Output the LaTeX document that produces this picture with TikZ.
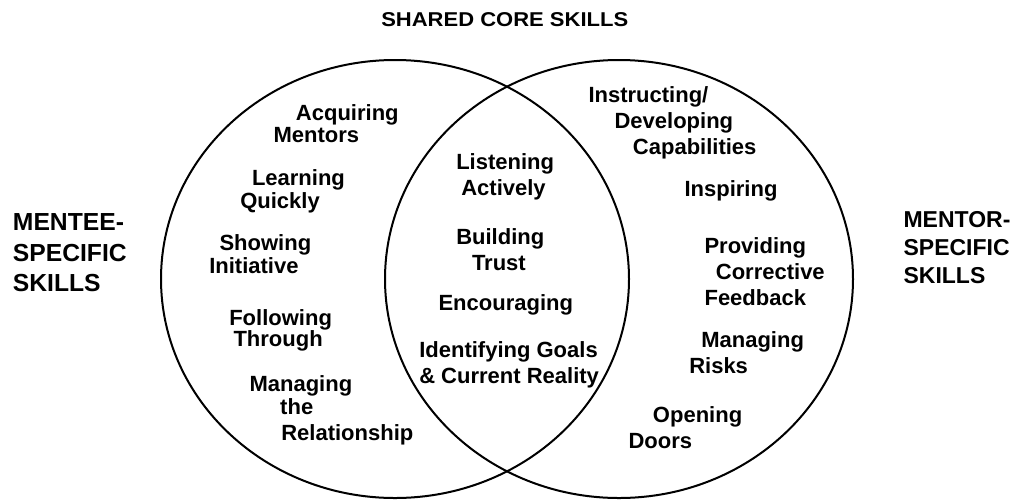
\documentclass[tikz,border=0pt]{standalone}
\usepackage{fontspec}
\setmainfont{Liberation Sans}

\tikzset{
  skill/.style={font=\bfseries\fontsize{16.5}{19.5}\selectfont, align=left, anchor=base west, inner sep=0pt},
  skilltight/.style={skill, font=\bfseries\fontsize{16.5}{17}\selectfont},
  side/.style={font=\bfseries\fontsize{18.5}{23}\selectfont, align=left, anchor=base west, inner sep=0pt},
}

\begin{document}
\begin{tikzpicture}[x=0.75pt,y=0.75pt,yscale=-1,xscale=1]
%set diagram left start at 0, and has height of 501
\useasboundingbox (0,0) rectangle (1021,501);

%Shape: Ellipse [mentee]
\draw  [line width=1.5pt] (395,279) ellipse [x radius=234, y radius=219];
%Shape: Ellipse [mentor]
\draw  [line width=1.5pt] (619,279) ellipse [x radius=234, y radius=219];

% Text Node
\draw (381,26) node (title) [anchor=base west, inner sep=0pt, xscale=1.1, font=\bfseries\fontsize{15}{18}\selectfont] {SHARED CORE SKILLS};
% Text Node
\draw (12.7,291.7) node (menteelbl) [side] {MENTEE-\\SPECIFIC\\SKILLS};
% Text Node
\draw (903.3,283.3) node (mentorlbl) [side, font=\bfseries\fontsize{17.25}{21}\selectfont] {MENTOR-\\SPECIFIC\\SKILLS};

% Text Node
\draw (273.3,142.7) node (acquiring) [skilltight] {\hspace*{16.8pt}Acquiring\\Mentors};
% Text Node
\draw (240,208.3) node (learning) [skilltight] {\hspace*{8.8pt}Learning\\Quickly};
% Text Node
\draw (209,273.3) node (showing) [skilltight] {\hspace*{7.7pt}Showing\\Initiative};
% Text Node
\draw (229,346.7) node (following) [skilltight] {Following\\[-1pt]\hspace*{3.2pt}Through};
% Text Node
\draw (249.3,440.7) node (managingrel) [skilltight] {Managing\\\hspace*{23pt}the\\[3pt]\hspace*{23.8pt}Relationship};

% Text Node
\draw (456,195.7) node (listening) [skill] {Listening\\\hspace*{3.8pt}Actively};
% Text Node
\draw (456,270) node (building) [skill] {Building\\\hspace*{11.8pt}Trust};
% Text Node
\draw (438.3,310.7) node (encouraging) [skill] {Encouraging};
% Text Node
\draw (419,383.3) node (goals) [skill] {Identifying Goals\\\& Current Reality};

% Text Node
\draw (588.3,154.3) node (instructing) [skill] {Instructing/\\\hspace*{19.5pt}Developing\\\hspace*{33.3pt}Capabilities};
% Text Node
\draw (684.3,196.7) node (inspiring) [skill] {Inspiring};
% Text Node
\draw (704.3,305) node (providing) [skill] {Providing\\\hspace*{8.5pt}Corrective\\Feedback};
% Text Node
\draw (689,373.3) node (managingrisk) [skill] {\hspace*{9pt}Managing\\Risks};
% Text Node
\draw (628.3,448.3) node (opening) [skill] {\hspace*{18.3pt}Opening\\Doors};

\end{tikzpicture}
\end{document}
